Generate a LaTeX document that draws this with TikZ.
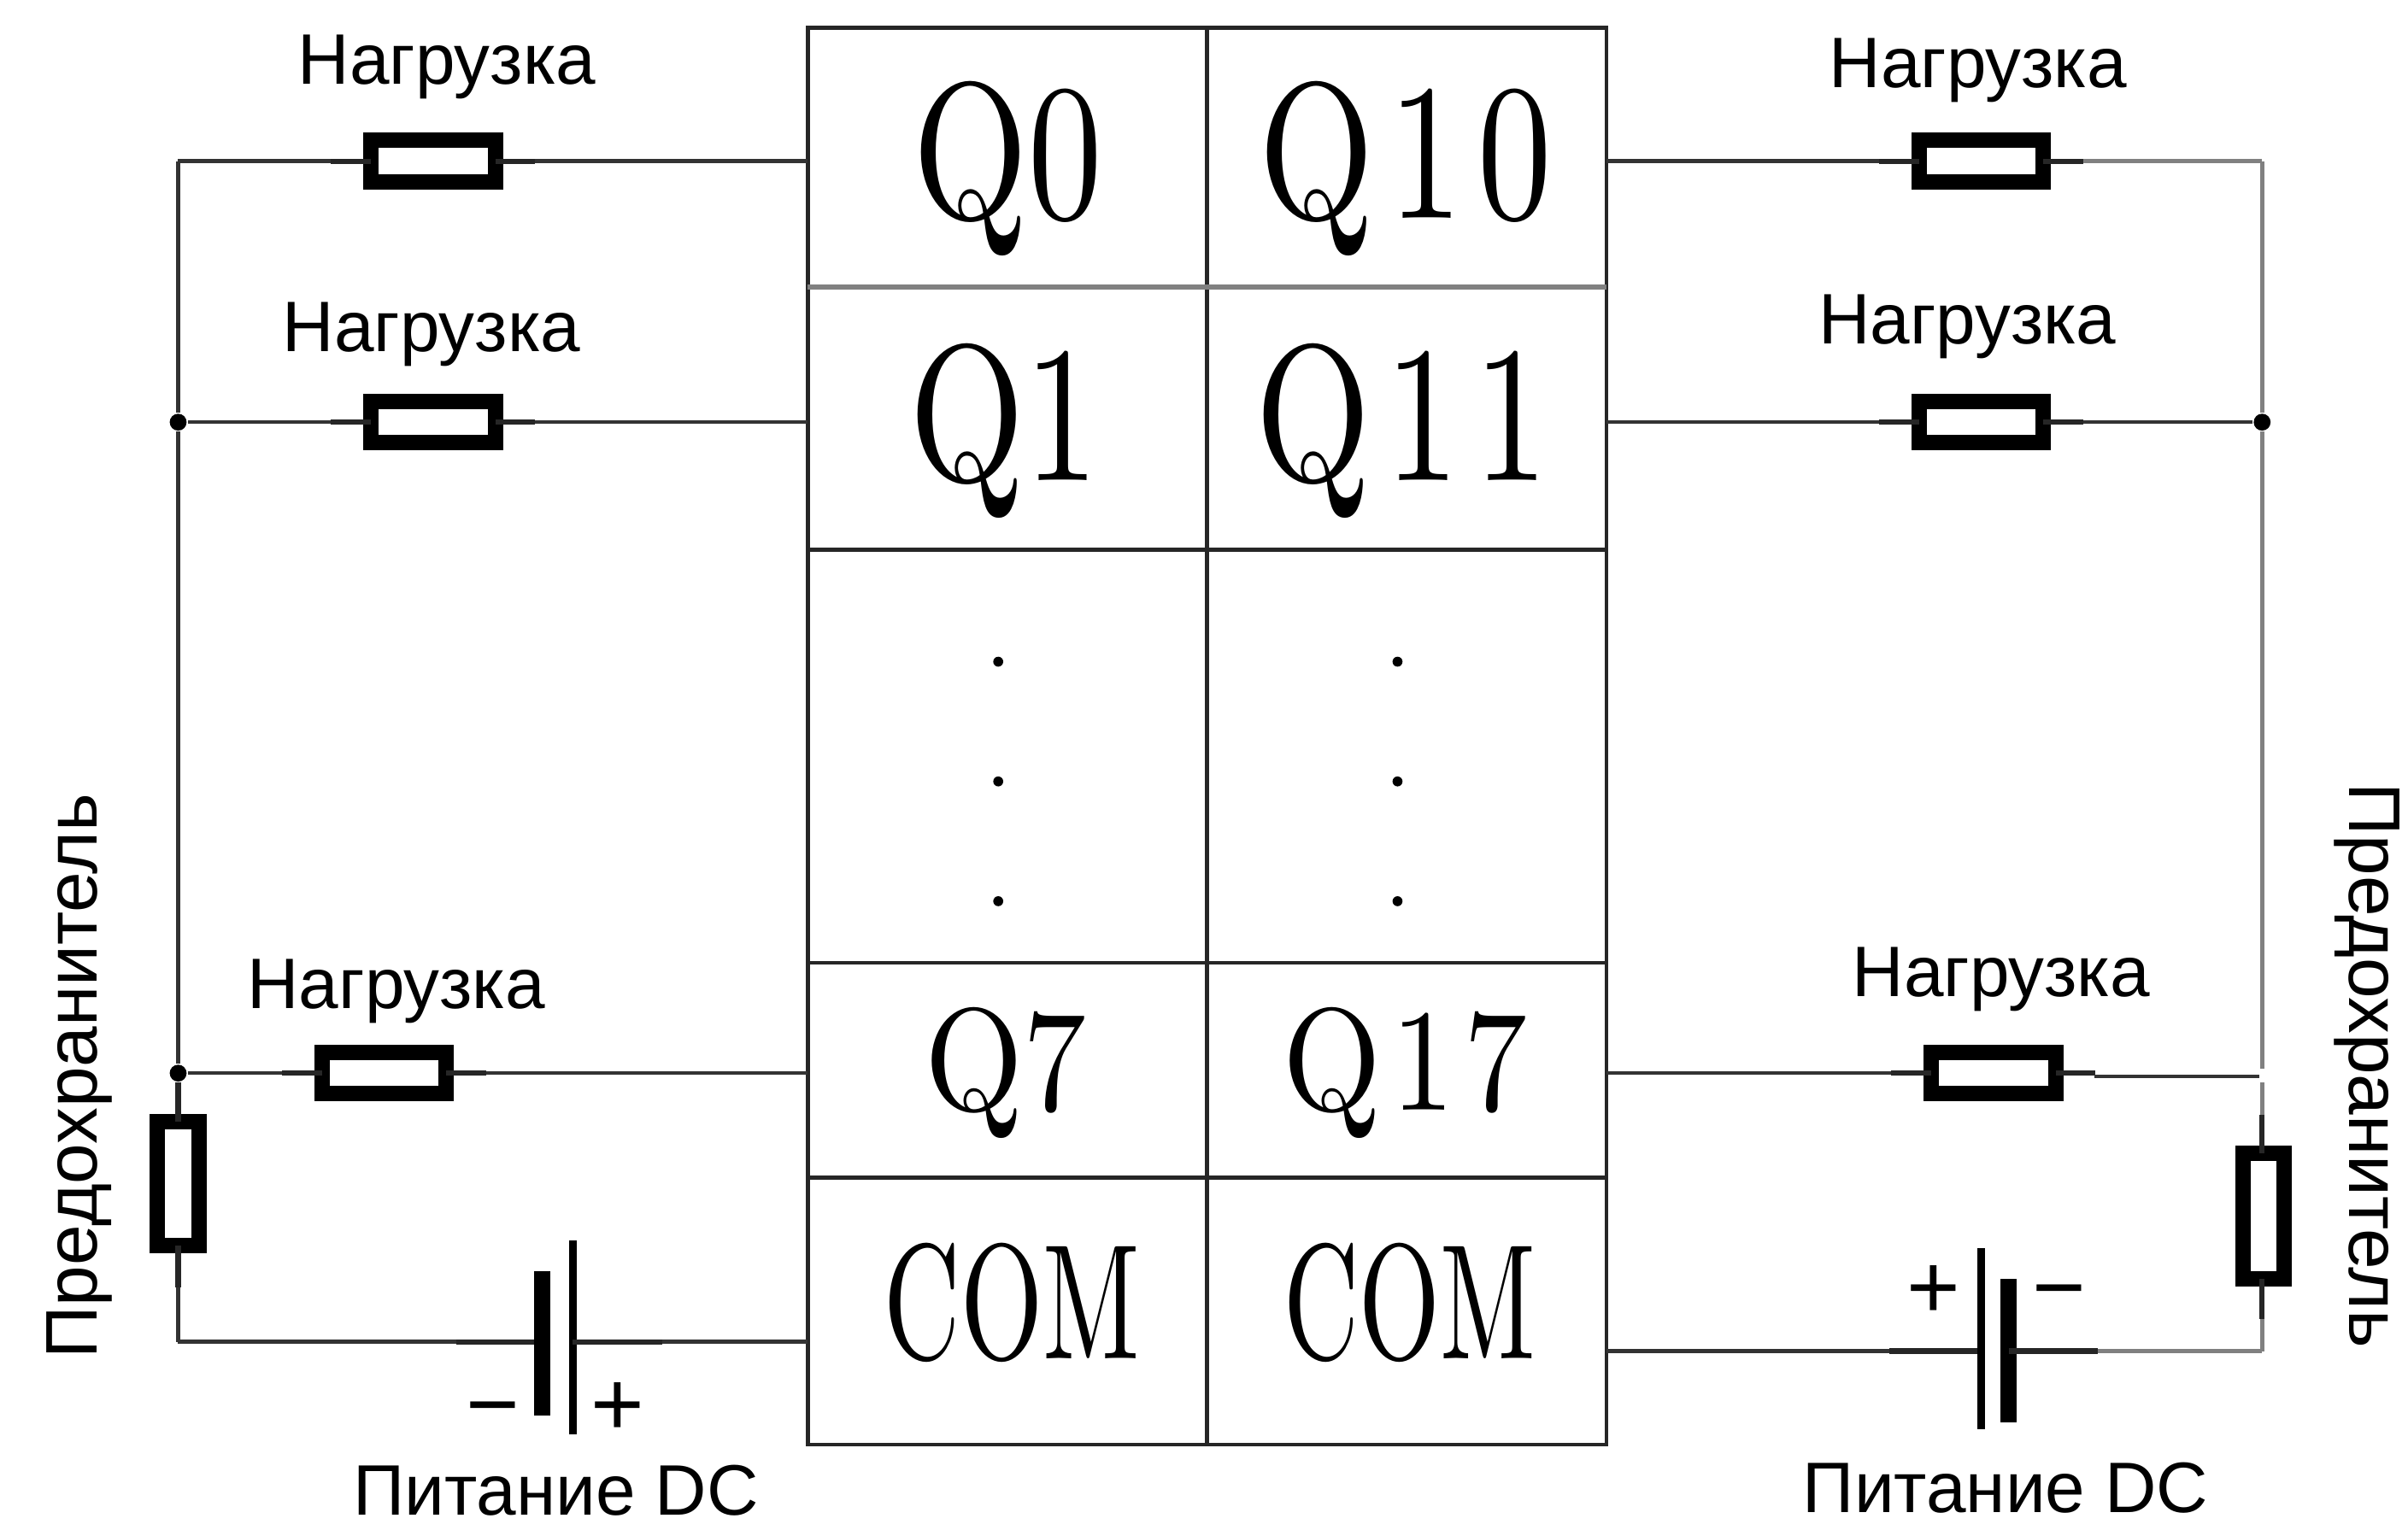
\documentclass[tikz,border=0pt]{standalone}
\usepackage{graphicx}
\usepackage{fontspec}
\setsansfont{Liberation Sans}

\tikzset{
  cell/.style={draw=black!85, line width=0.025cm, minimum width=2.6cm, inner sep=0pt, outer sep=0pt},
  tablelabel/.style={anchor=base, inner sep=0pt},
  textlabel/.style={anchor=base, inner sep=0pt, font=\sffamily\fontsize{13.25}{15}\selectfont},
  sidelabel/.style={anchor=base, inner sep=0pt, font=\sffamily\fontsize{13.55}{15}\selectfont},
  sign/.style={anchor=base, inner sep=0pt, font=\sffamily\fontsize{17}{19}\selectfont},
  load/.style={draw=black, line width=0.1cm, minimum width=0.81cm, minimum height=0.27cm, inner sep=0pt, outer sep=0pt},
  fuse/.style={draw=black, line width=0.1cm, minimum width=0.27cm, minimum height=0.81cm, inner sep=0pt, outer sep=0pt},
  wire/.style={line width=0.025cm, black!80},
  greywire/.style={line width=0.025cm, black!50},
  stub/.style={line width=0.035cm, black!85},
  junction/.style={circle, fill=black, minimum size=0.11cm, inner sep=0pt},
  rowdot/.style={circle, fill=black, minimum size=0.065cm, inner sep=0pt}
}

\begin{document}
\begin{tikzpicture}
\useasboundingbox (0,0) rectangle (15.68,10);

% Terminal table, left column
\node[cell, minimum height=1.69cm] (q0) at (6.56,8.975) {}; % Row Q0
\node[cell, minimum height=1.71cm] (q1) at (6.56,7.275) {}; % Row Q1
\node[cell, minimum height=2.69cm] (qdots) at (6.56,5.075) {}; % Row with dots
\node[cell, minimum height=1.40cm] (q7) at (6.56,3.03) {}; % Row Q7
\node[cell, minimum height=1.74cm] (coml) at (6.56,1.46) {}; % Row COM

% Terminal table, right column
\node[cell, minimum height=1.69cm] (q10) at (9.16,8.975) {}; % Row Q10
\node[cell, minimum height=1.71cm] (q11) at (9.16,7.275) {}; % Row Q11
\node[cell, minimum height=2.69cm] (qdotsr) at (9.16,5.075) {}; % Row with dots
\node[cell, minimum height=1.40cm] (q17) at (9.16,3.03) {}; % Row Q17
\node[cell, minimum height=1.74cm] (comr) at (9.16,1.46) {}; % Row COM

% Soft grey rule under the first row
\draw[greywire, line width=0.035cm] (q0.south west) -- (q10.south east);

% Terminal names
\node[tablelabel] (tq0) at (6.56,8.58) {\scalebox{2.74}[3.6]{Q0}};
\node[tablelabel] (tq1) at (6.54,6.87) {\scalebox{2.74}[3.6]{Q1}};
\node[tablelabel] (tq7) at (6.55,2.77) {\scalebox{2.34}[2.7]{Q7}};
\node[tablelabel] (tcoml) at (6.59,1.15) {\scalebox{1.96}[3.04]{COM}};
\node[tablelabel] (tq10) at (9.15,8.58) {\scalebox{2.74}[3.6]{Q\kern0.1em 1\kern0.1em 0}};
\node[tablelabel] (tq11) at (9.13,6.87) {\scalebox{2.74}[3.6]{Q\kern0.1em 1\kern0.1em 1}};
\node[tablelabel] (tq17) at (9.15,2.77) {\scalebox{2.34}[2.7]{Q\kern0.08em 1\kern0.08em 7}};
\node[tablelabel] (tcomr) at (9.18,1.15) {\scalebox{1.93}[3.04]{COM}};

% Dots in the middle rows
\node[rowdot] (da) at (6.50,5.69) {};
\node[rowdot] (db) at (6.50,4.91) {};
\node[rowdot] (dc) at (6.50,4.13) {};
\node[rowdot] (dd) at (9.10,5.69) {};
\node[rowdot] (de) at (9.10,4.91) {};
\node[rowdot] (df) at (9.10,4.13) {};

% Loads on the left
\node[load] (rq0) at (2.82,8.95) {};
\node[load] (rq1) at (2.82,7.25) {};
\node[load] (rq7) at (2.50,3.01) {};
\draw[stub] (rq0.west) -- ++(-0.26,0) coordinate (rq0w); % Stub, left
\draw[stub] (rq0.east) -- ++(0.26,0) coordinate (rq0e); % Stub, right
\draw[stub] (rq1.west) -- ++(-0.26,0) coordinate (rq1w);
\draw[stub] (rq1.east) -- ++(0.26,0) coordinate (rq1e);
\draw[stub] (rq7.west) -- ++(-0.26,0) coordinate (rq7w);
\draw[stub] (rq7.east) -- ++(0.26,0) coordinate (rq7e);

% Loads on the right
\node[load] (rq10) at (12.90,8.95) {};
\node[load] (rq11) at (12.90,7.25) {};
\node[load] (rq17) at (12.98,3.01) {};
\draw[stub] (rq10.west) -- ++(-0.26,0) coordinate (rq10w);
\draw[stub] (rq10.east) -- ++(0.26,0) coordinate (rq10e);
\draw[stub] (rq11.west) -- ++(-0.26,0) coordinate (rq11w);
\draw[stub] (rq11.east) -- ++(0.26,0) coordinate (rq11e);
\draw[stub] (rq17.west) -- ++(-0.26,0) coordinate (rq17w);
\draw[stub] (rq17.east) -- ++(0.26,0) coordinate (rq17e);

% Left bus with fuse
\coordinate (lefttop) at (1.16,8.95);
\coordinate (leftbot) at (1.16,1.26);
\node[junction] (jl1) at (1.16,7.25) {};
\node[junction] (jl7) at (1.16,3.01) {};
\node[fuse] (fusel) at (1.16,2.29) {};
\draw[wire] (lefttop) -- (jl1);
\draw[wire] (jl1) -- (jl7);
\draw[stub] (jl7) -- (fusel.north); % Stub above fuse
\draw[stub] (fusel.south) -- ++(0,-0.27) coordinate (fuselb); % Stub below fuse
\draw[wire] (fuselb) -- (leftbot);

% Right bus with fuse
\coordinate (righttop) at (14.73,8.95);
\coordinate (rightgapa) at (14.73,3.04);
\coordinate (rightgapb) at (14.73,2.95);
\coordinate (rightbot) at (14.73,1.20);
\node[junction] (jr1) at (14.73,7.25) {};
\node[fuse, minimum height=0.82cm] (fuser) at (14.74,2.08) {};
\draw[greywire] (righttop) -- (jr1);
\draw[greywire] (jr1) -- (rightgapa);
\draw[greywire] (rightgapb) -- ++(0,-0.21) coordinate (fuserstub);
\draw[stub] (fuserstub) -- (fuserstub |- fuser.north);
\draw[stub] (fuserstub |- fuser.south) -- ++(0,-0.26) coordinate (fuserb);
\draw[greywire] (fuserb) -- (rightbot);

% Left wires
\draw[wire] (lefttop) -- (rq0w);
\draw[wire] (rq0e) -- (rq0e -| q0.west);
\draw[wire] (jl1) -- (rq1w);
\draw[wire] (rq1e) -- (rq1e -| q1.west);
\draw[wire] (jl7) -- (rq7w);
\draw[wire] (rq7e) -- (rq7e -| q7.west);

% Right wires
\draw[wire] (rq10w -| q10.east) -- (rq10w);
\draw[greywire] (rq10e) -- (righttop);
\draw[wire] (rq11w -| q11.east) -- (rq11w);
\draw[wire] (rq11e) -- (jr1);
\draw[wire] (rq17w -| q17.east) -- (rq17w);
\draw[wire] (13.64,2.99) -- (14.71,2.99);

% Left supply
\coordinate (batla) at (2.97,1.26);
\coordinate (batlb) at (4.31,1.26);
\draw[wire] (leftbot) -- (batla);
\draw[stub] (batla) -- (3.50,1.26);
\draw[line width=0.105cm] (3.53,1.72) -- (3.53,0.78); % Thick plate
\draw[line width=0.05cm] (3.73,1.92) -- (3.73,0.66); % Thin plate
\draw[stub] (3.73,1.26) -- (batlb);
\draw[wire] (batlb) -- (batlb -| coml.west);
\node[sign] (minl) at (3.21,0.65) {−};
\node[sign] (plusl) at (4.02,0.65) {+};

% Right supply
\coordinate (batra) at (12.30,1.20);
\coordinate (batrb) at (13.66,1.20);
\draw[wire] (batra -| comr.east) -- (batra);
\draw[stub] (batra) -- (12.90,1.20);
\draw[line width=0.05cm] (12.90,1.87) -- (12.90,0.69); % Thin plate
\draw[line width=0.105cm] (13.08,1.67) -- (13.08,0.735); % Thick plate
\draw[stub] (13.08,1.20) -- (batrb);
\draw[greywire] (batrb) -- (rightbot);
\node[sign] (plusr) at (12.59,1.41) {+};
\node[sign] (minr) at (13.41,1.41) {−};

% Labels
\node[textlabel] (la) at (2.91,9.45) {Нагрузка};
\node[textlabel] (lb) at (2.81,7.71) {Нагрузка};
\node[textlabel] (lc) at (2.58,3.43) {Нагрузка};
\node[textlabel] (ld) at (12.88,9.43) {Нагрузка};
\node[textlabel] (le) at (12.81,7.76) {Нагрузка};
\node[textlabel] (lf) at (13.03,3.51) {Нагрузка};
\node[textlabel] (pl) at (3.62,0.13) {Питание DC};
\node[textlabel] (pr) at (13.06,0.15) {Питание DC};
\node[sidelabel, rotate=90] (fl) at (0.63,2.99) {Предохранитель};
\node[sidelabel, rotate=-90] (fr) at (15.30,3.06) {Предохранитель};

\end{tikzpicture}
\end{document}
